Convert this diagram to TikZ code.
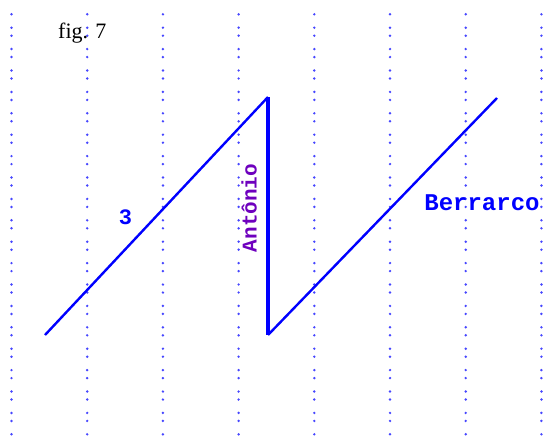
\documentclass[tikz,border=0pt]{standalone}
\usepackage{fontspec}
\setmainfont{Liberation Serif}
\newfontfamily\pixfont{Liberation Mono}
\usepackage{tikz}
\usetikzlibrary{positioning}
\definecolor{lineblue}{RGB}{0,0,255}
\definecolor{dotblue}{RGB}{70,70,255}
\definecolor{mixlabel}{RGB}{110,0,190}

\begin{document}
\begin{tikzpicture}[
  x=1pt, y=-1pt,
  gridline/.style={dotblue, line width=2.7pt, line cap=round, dash pattern=on 0pt off 13.4pt on 0pt off 8pt},
  zigline/.style={lineblue, line width=2.4pt, line join=round},
  barline/.style={lineblue, line width=4pt},
  pixlabel/.style={font=\pixfont\bfseries, text=lineblue, inner sep=0pt}
]
\useasboundingbox (0,0) rectangle (543,436);

% dotted guide lines
\foreach \i in {0,...,7}
  \draw[gridline] (11.5+75.7*\i,14.3) -- (11.5+75.7*\i,436);

\node[font=\fontsize{22}{24}\selectfont, inner sep=0pt, anchor=base west] (fig) at (58,39) {fig. 7};

\coordinate (lowleft) at (45,335);
\coordinate (topmid) at (268,97);
\coordinate (lowmid) at (268,335);
\coordinate (topright) at (497,98);

\draw[zigline] (lowleft) -- (topmid);
\draw[barline] (topmid) -- (lowmid);
\draw[zigline] (lowmid) -- (topright);

\node[pixlabel, font=\pixfont\bfseries\fontsize{22}{24}\selectfont] (three) at (125.5,217.5) {3};
\node[pixlabel, font=\pixfont\bfseries\fontsize{21}{23}\selectfont, text=mixlabel, rotate=90] (antonio) at (249,208) {Antônio};
\node[pixlabel, font=\pixfont\bfseries\fontsize{24}{26}\selectfont] (berrarco) at (482,203) {Berrarco};
\end{tikzpicture}
\end{document}
